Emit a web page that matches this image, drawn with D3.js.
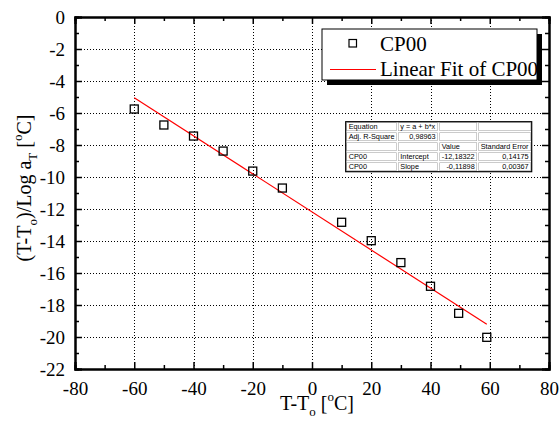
<!DOCTYPE html>
<html>
<head>
<meta charset="utf-8">
<script src="https://cdn.jsdelivr.net/npm/d3@7/dist/d3.min.js"></script>
<style>
  html, body { margin: 0; padding: 0; background: #fff; }
  svg { display: block; }
  .serif { font-family: "Liberation Serif", "DejaVu Serif", serif; }
  .sans { font-family: "Liberation Sans", Arial, sans-serif; }
</style>
</head>
<body>
<svg id="chart" width="560" height="430"></svg>
<script>
// Shift factor data for CP00
const tempDiff = [-60, -50, -40, -30, -20, -10, 10, 20, 30, 40, 49.5, 59];
const shiftVals = [-5.75, -6.75, -7.44, -8.38, -9.63, -10.69, -12.83, -13.98, -15.35, -16.83, -18.52, -20.02];

// Linear fit results
const fitIntercept = -12.18322;
const fitSlope = -0.11898;

const xTicks = [-80, -60, -40, -20, 0, 20, 40, 60, 80];
const xMinor = [-70, -50, -30, -10, 10, 30, 50, 70];
const yTicks = [0, -2, -4, -6, -8, -10, -12, -14, -16, -18, -20, -22];
const yMinor = [-1, -3, -5, -7, -9, -11, -13, -15, -17, -19, -21];

const tableRows = [
  ["Equation", "y = a + b*x", "", ""],
  ["Adj. R-Square", "0,98963", "", ""],
  ["", "", "Value", "Standard Error"],
  ["CP00", "Intercept", "-12,18322", "0,14175"],
  ["CP00", "Slope", "-0,11898", "0,00367"]
];

const svg = d3.select("#chart");
const L = 75, R = 549, T = 17, B = 369;

const x = d3.scaleLinear().domain([-80, 80]).range([L, R]);
const y = d3.scaleLinear().domain([-22, 0]).range([B, T]);
const plain = d => String(d);

// dotted grid
const grid = svg.append("g").attr("stroke", "#000").attr("stroke-width", 1)
  .attr("stroke-dasharray", "1,2");
grid.selectAll("line.vx").data(xTicks.filter(d => d > -80 && d < 80)).join("line")
  .attr("class", "vx")
  .attr("x1", d => Math.round(x(d)) + 0.5).attr("x2", d => Math.round(x(d)) + 0.5)
  .attr("y1", T).attr("y2", B);
grid.selectAll("line.hy").data(yTicks.filter(d => d > -22 && d < 0)).join("line")
  .attr("class", "hy")
  .attr("y1", d => Math.round(y(d)) + 0.5).attr("y2", d => Math.round(y(d)) + 0.5)
  .attr("x1", L).attr("x2", R);

// axes with inward ticks on all four sides
const tickLen = 7, minorLen = 4;
const axes = [
  svg.append("g").attr("transform", `translate(0,${B})`)
    .call(d3.axisBottom(x).tickValues(xTicks).tickSize(-tickLen).tickPadding(tickLen + 6).tickFormat(plain)),
  svg.append("g").attr("transform", `translate(0,${B})`)
    .call(d3.axisBottom(x).tickValues(xMinor).tickSize(-minorLen).tickFormat("")),
  svg.append("g").attr("transform", `translate(0,${T})`)
    .call(d3.axisTop(x).tickValues(xTicks).tickSize(-tickLen).tickFormat("")),
  svg.append("g").attr("transform", `translate(0,${T})`)
    .call(d3.axisTop(x).tickValues(xMinor).tickSize(-minorLen).tickFormat("")),
  svg.append("g").attr("transform", `translate(${L},0)`)
    .call(d3.axisLeft(y).tickValues(yTicks).tickSize(-tickLen).tickPadding(tickLen + 3).tickFormat(plain)),
  svg.append("g").attr("transform", `translate(${L},0)`)
    .call(d3.axisLeft(y).tickValues(yMinor).tickSize(-minorLen).tickFormat("")),
  svg.append("g").attr("transform", `translate(${R},0)`)
    .call(d3.axisRight(y).tickValues(yTicks).tickSize(-tickLen).tickFormat("")),
  svg.append("g").attr("transform", `translate(${R},0)`)
    .call(d3.axisRight(y).tickValues(yMinor).tickSize(-minorLen).tickFormat(""))
];

axes.forEach(g => {
  g.attr("font-family", null).attr("font-size", null);
  g.select(".domain").attr("stroke", "#000").attr("stroke-width", 2);
  g.selectAll(".tick line").attr("stroke", "#000").attr("stroke-width", 1.5);
  g.selectAll(".tick text").attr("fill", "#000").attr("class", "serif")
    .style("font-size", "19px");
});

// linear fit line
const xExt = d3.extent(tempDiff);
svg.append("line")
  .attr("x1", x(xExt[0])).attr("y1", y(fitIntercept + fitSlope * xExt[0]))
  .attr("x2", x(xExt[1])).attr("y2", y(fitIntercept + fitSlope * xExt[1]))
  .attr("stroke", "#ff0000").attr("stroke-width", 1.2);

// data squares
const sq = 8;
svg.append("g").selectAll("rect").data(tempDiff.map((d, i) => [d, shiftVals[i]])).join("rect")
  .attr("x", d => x(d[0]) - sq / 2).attr("y", d => y(d[1]) - sq / 2)
  .attr("width", sq).attr("height", sq)
  .attr("fill", "none").attr("stroke", "#000").attr("stroke-width", 1.3);

// axis titles
const xt = svg.append("text").attr("class", "serif").attr("x", 317).attr("y", 410).attr("text-anchor", "middle")
  .style("font-size", "20px").attr("fill", "#000");
xt.append("tspan").text("T-T");
xt.append("tspan").attr("dy", 6).style("font-size", "13px").text("o");
xt.append("tspan").attr("dy", -6).text(" [");
xt.append("tspan").attr("dy", -9).style("font-size", "13px").text("o");
xt.append("tspan").attr("dy", 9).text("C]");

const yt = svg.append("text").attr("class", "serif").attr("transform", "translate(31,188) rotate(-90)")
  .attr("text-anchor", "middle")
  .style("font-size", "20px").attr("fill", "#000");
yt.append("tspan").text("(T-T");
yt.append("tspan").attr("dy", 6).style("font-size", "13px").text("o");
yt.append("tspan").attr("dy", -6).text(")/Log a");
yt.append("tspan").attr("dy", 6).style("font-size", "13px").text("T");
yt.append("tspan").attr("dy", -6).text(" [");
yt.append("tspan").attr("dy", -9).style("font-size", "13px").text("o");
yt.append("tspan").attr("dy", 9).text("C]");

// legend with drop shadow
const lg = { x: 322, y: 29, w: 215, h: 51 };
svg.append("rect").attr("x", lg.x + 5).attr("y", lg.y + 5).attr("width", lg.w).attr("height", lg.h)
  .attr("fill", "#000");
svg.append("rect").attr("x", lg.x).attr("y", lg.y).attr("width", lg.w).attr("height", lg.h)
  .attr("fill", "#fff").attr("stroke", "#000").attr("stroke-width", 1);
svg.append("rect").attr("x", 349).attr("y", 39.5).attr("width", 7.5).attr("height", 7.5)
  .attr("fill", "none").attr("stroke", "#000").attr("stroke-width", 1.2);
svg.append("line").attr("x1", 330).attr("x2", 376).attr("y1", 69.5).attr("y2", 69.5)
  .attr("stroke", "#ff0000").attr("stroke-width", 1.2);
svg.append("text").attr("class", "serif").attr("x", 380).attr("y", 51).text("CP00")
  .style("font-size", "21px");
svg.append("text").attr("class", "serif").attr("x", 380).attr("y", 76).text("Linear Fit of CP00")
  .style("font-size", "21px");

// fit results table
const colX = [345.7, 397.3, 438.7, 477.7, 531.7];
const rowY0 = 121.7, rowH = 10;
const tbl = svg.append("g");
tbl.append("rect").attr("x", colX[0]).attr("y", rowY0)
  .attr("width", colX[4] - colX[0]).attr("height", rowH * tableRows.length)
  .attr("fill", "#fff");
tableRows.forEach((row, r) => {
  row.forEach((cell, c) => {
    tbl.append("rect")
      .attr("x", colX[c] + 1).attr("y", rowY0 + r * rowH + 1)
      .attr("width", colX[c + 1] - colX[c] - 2).attr("height", rowH - 2)
      .attr("fill", "none").attr("stroke", "#aaa").attr("stroke-width", 0.6);
    if (!cell) return;
    const numeric = /^-?\d/.test(cell);
    tbl.append("text").attr("class", "sans")
      .attr("x", numeric ? colX[c + 1] - 3 : colX[c] + 3)
      .attr("y", rowY0 + r * rowH + 7.6)
      .attr("text-anchor", numeric ? "end" : "start")
      .style("font-size", "7.3px").attr("fill", "#000")
      .text(cell);
  });
});
tbl.append("rect").attr("x", colX[0]).attr("y", rowY0)
  .attr("width", colX[4] - colX[0]).attr("height", rowH * tableRows.length)
  .attr("fill", "none").attr("stroke", "#000").attr("stroke-width", 1.2);
</script>
</body>
</html>
